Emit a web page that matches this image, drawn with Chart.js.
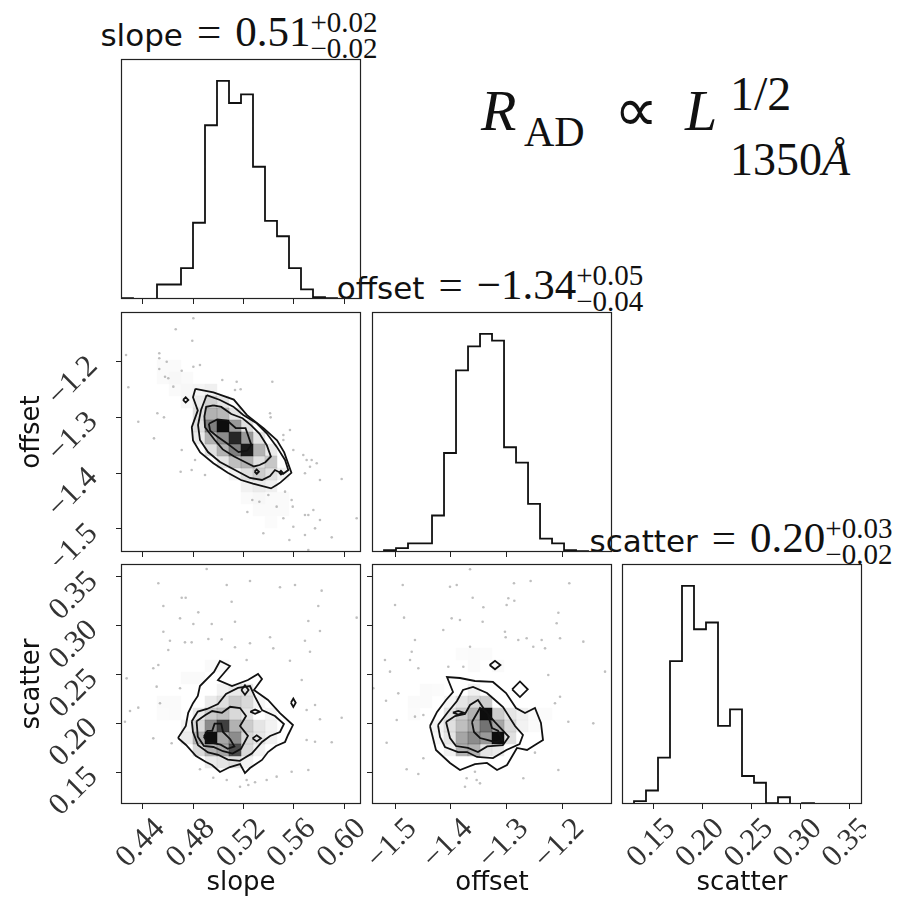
<!DOCTYPE html>
<html>
<head>
<meta charset="utf-8">
<script src="https://cdn.jsdelivr.net/npm/chart.js@4.4.1/dist/chart.umd.min.js"></script>
<style>
html, body { margin: 0; padding: 0; background: #fff; }
#wrap { position: relative; width: 904px; height: 909px; overflow: hidden; }
#wrap canvas { position: absolute; }
.ttl { position: absolute; white-space: nowrap; transform: translateX(-50%);
       font-family: "Liberation Serif"; font-size: 43px; line-height: 40px; color: #111; }
.ttl .nm { font-family: "DejaVu Sans"; font-size: 31px; }
.ttl .eq { margin: 0 14px; }
.ttl .sc { display: inline-flex; flex-direction: column; position: relative; top: -14px;
           font-size: 29px; line-height: 26px; }
.fx { position: absolute; line-height: 1; white-space: nowrap; color: #111; font-family: "Liberation Serif"; }
</style>
</head>
<body>
<div id="wrap">
  <div class="ttl" style="left:239px; top:11.5px"><span class="nm">slope</span><span class="eq">=</span>0.51<span class="sc"><span>+0.02</span><span>&minus;0.02</span></span></div>
  <div class="ttl" style="left:490px; top:264.5px"><span class="nm">offset</span><span class="eq">=</span>&minus;1.34<span class="sc"><span>+0.05</span><span>&minus;0.04</span></span></div>
  <div class="ttl" style="left:741px; top:517.5px"><span class="nm">scatter</span><span class="eq">=</span>0.20<span class="sc"><span>+0.03</span><span>&minus;0.02</span></span></div>

  <div class="fx" style="left:481px; top:82px; font-size:58px; font-style:italic">R</div>
  <div class="fx" style="left:524px; top:111px; font-size:42px">AD</div>
  <div class="fx" style="left:614px; top:79px; font-size:62px; font-family:'DejaVu Sans'">&prop;</div>
  <div class="fx" style="left:685px; top:82px; font-size:58px; font-style:italic">L</div>
  <div class="fx" style="left:730px; top:70px; font-size:48px">1/2</div>
  <div class="fx" style="left:730px; top:137px; font-size:46px">1350<i>&Aring;</i></div>
</div>
<script>
// corner plot: slope / offset / scatter

// 1D histograms (20 bins each)
const slopeEdges = [0.4226, 0.43214, 0.44168, 0.45122, 0.46076, 0.4703, 0.47984, 0.48938, 0.49892, 0.50846, 0.518,
                    0.52754, 0.53708, 0.54662, 0.55616, 0.5657, 0.57524, 0.58478, 0.59432, 0.60386, 0.6134];
const slopeCounts = [1, 0, 0, 15, 15, 32, 79, 180, 226, 203, 212, 137, 81, 65, 32, 10, 2, 1, 0, 0];

const offsetEdges = [-1.5413, -1.5198, -1.4983, -1.4768, -1.4553, -1.4338, -1.4123, -1.3908, -1.3693, -1.3478, -1.3263,
                     -1.3048, -1.2833, -1.2618, -1.2403, -1.2188, -1.1973, -1.1758, -1.1543, -1.1328, -1.1114];
const offsetCounts = [0, 2, 4, 9, 9, 38, 103, 189, 214, 227, 220, 109, 93, 50, 14, 9, 2, 1, 0, 0];

const scatterEdges = [0.1175, 0.12979, 0.14208, 0.15437, 0.16666, 0.17895, 0.19124, 0.20353, 0.21582, 0.22811, 0.2404,
                      0.25269, 0.26498, 0.27727, 0.28956, 0.30185, 0.31414, 0.32643, 0.33872, 0.35101, 0.3633];
const scatterCounts = [0, 3, 14, 48, 148, 226, 181, 188, 81, 98, 29, 22, 1, 7, 0, 1, 0, 0, 0, 0];

const slopeTicks = [0.44, 0.48, 0.52, 0.56, 0.60];
const offsetTicks = [-1.5, -1.4, -1.3, -1.2];
const scatterTicks = [0.15, 0.20, 0.25, 0.30, 0.35];

// 2D panels, everything below is in histogram-bin units (0..20 along each axis range)
// cells: [i, j, darkness]
const cellsSO = [
  [3,14,.02],[4,14,.03],[4,15,.02],[3,15,.02],[4,13,.02],[5,13,.03],[5,14,.02],
  [6,13,.04],[7,13,.06],[5,12,.03],[6,12,.08],[7,12,.18],[8,12,.1],
  [6,11,.12],[7,11,.3],[8,11,.28],[9,11,.1],
  [6,10,.12],[7,10,.5],[8,10,.95],[9,10,.4],[10,10,.12],
  [6,9,.08],[7,9,.3],[8,9,.45],[9,9,.85],[10,9,.4],[11,9,.1],
  [7,8,.12],[8,8,.3],[9,8,.5],[10,8,.9],[11,8,.3],[12,8,.08],
  [8,7,.1],[9,7,.25],[10,7,.3],[11,7,.12],[12,7,.22],
  [9,6,.05],[10,6,.12],[11,6,.2],[12,6,.12],[13,6,.05],
  [10,5,.05],[11,5,.08],[12,5,.06],
  [10,4,.02],[11,4,.03],[12,4,.02],[13,4,.02],[11,3,.02],[12,3,.02],[13,3,.02],[12,2,.015]
];
const cellsSS = [
  [6,7,.08],[7,7,.2],[8,7,.25],[9,7,.15],[10,7,.1],
  [5,6,.05],[6,6,.15],[7,6,.45],[8,6,.75],[9,6,.3],[10,6,.2],[11,6,.1],[12,6,.05],
  [5,5,.08],[6,5,.3],[7,5,.95],[8,5,.35],[9,5,.45],[10,5,.15],[11,5,.1],[12,5,.05],
  [6,4,.15],[7,4,.3],[8,4,.35],[9,4,.7],[10,4,.15],[11,4,.05],
  [7,3,.08],[8,3,.1],[9,3,.12],[10,3,.05],
  [7,8,.08],[8,8,.12],[9,8,.2],[10,8,.15],[8,9,.05],[9,9,.08],[10,9,.1],
  [3,8,.02],[4,8,.02],[11,8,.04],[12,7,.04],[5,10,.02],[6,10,.02],[7,11,.02],[8,11,.02],[4,7,.02],[3,7,.015]
];
const cellsOS = [
  [9,7,.95],[10,5,.95],[9,6,.55],[9,5,.4],[8,6,.35],[8,5,.45],[7,5,.35],[7,4,.3],[8,4,.3],[10,6,.35],
  [10,7,.2],[8,7,.3],[9,8,.2],[8,8,.15],[7,6,.25],[6,6,.12],[7,7,.2],[6,7,.1],[11,6,.15],[11,5,.12],
  [9,4,.1],[10,4,.08],[6,5,.1],[6,4,.05],[12,6,.05],[11,7,.1],[12,7,.06],[7,8,.1],[8,9,.06],[6,8,.04],
  [5,6,.05],[5,5,.03],[3,8,.02],[4,8,.02],[4,9,.02],[5,9,.015],[3,7,.015],[7,12,.015],[8,12,.02],[9,12,.015],
  [10,11,.02],[8,11,.02],[13,7,.02],[14,7,.015],[13,6,.02]
];

// contour levels, outermost first
const contoursSO = [
  [[6.2,13.6],[7.7,13.3],[9.4,12.7],[10.5,11.4],[11.9,10.3],[13.0,9.3],[13.6,8.3],[14.2,6.6],[13.3,5.8],[13.0,5.6],
   [12.5,5.3],[11.0,5.7],[10.0,6.0],[8.9,6.6],[7.7,7.4],[6.6,8.3],[6.0,9.3],[5.9,10.4],[6.4,11.8],[6.0,12.9]],
  [[7.14,13.08],[8.25,12.67],[9.36,12.11],[10.19,11.42],[11.31,10.72],[12.14,9.89],[12.97,8.78],[13.67,7.67],[13.94,6.83],
   [13.5,6.5],[12.83,6.83],[12.42,6.33],[11.75,6.0],[10.75,6.17],[9.5,6.83],[8.25,7.5],[7.25,8.33],[6.58,9.33],[6.42,10.58],[6.67,11.83]],
  [[7.7,12.21],[8.36,12.09],[9.19,11.5],[10.13,11.15],[10.85,10.55],[11.55,9.85],[12.15,8.9],[12.49,7.96],[12.03,7.48],
   [11.55,7.25],[11.08,7.13],[10.37,7.48],[9.43,7.96],[8.48,8.55],[7.78,9.37],[7.0,10.4],[6.95,11.3],[7.1,12.1]],
  [[7.32,10.69],[8.02,11.04],[8.85,10.95],[9.56,10.33],[10.38,10.33],[10.86,8.92],[10.5,8.44],[9.8,8.32],[8.85,9.04],[8.02,9.62],[7.43,10.1]]
];
const contoursSS = [
  [[4.75,5.5],[5.4,6.5],[5.6,7.6],[6.0,8.4],[6.4,9.0],[6.58,9.83],[7.75,11.0],[8.25,11.92],[9.08,11.5],[8.08,10.33],
   [9.25,9.83],[10.58,10.33],[11.42,10.83],[11.75,10.42],[11.08,9.5],[12.25,8.67],[13.25,7.58],[14.33,6.58],[13.92,5.75],
   [13.67,5.17],[12.92,4.83],[12.25,4.33],[11.75,3.67],[10.75,3.0],[10.33,2.58],[9.92,3.33],[9.08,3.08],[8.25,2.67],
   [7.58,3.25],[7.08,3.5],[6.25,4.0],[5.42,4.92]],
  [[5.9,6.9],[6.4,7.7],[7.17,7.92],[8.08,8.33],[8.75,9.17],[9.75,9.67],[10.75,9.83],[11.17,8.92],[11.75,7.83],[12.83,7.33],
   [13.58,6.67],[13.25,6.0],[12.42,5.67],[11.75,5.17],[10.9,4.2],[9.9,3.6],[8.9,3.7],[8.1,4.1],[7.25,4.3],[6.42,4.9],[6.0,6.0]],
  [[6.3,6.9],[7.0,7.4],[7.6,7.75],[8.42,7.6],[9.1,8.1],[9.92,8.0],[10.42,7.33],[9.92,6.5],[10.58,5.67],[10.0,4.6],
   [9.3,4.2],[8.5,4.4],[7.7,4.75],[6.9,4.85],[6.4,5.6]],
  [[6.9,5.6],[7.2,6.1],[7.6,6.1],[7.8,6.7],[8.35,6.7],[8.5,6.0],[9.1,5.4],[9.45,4.8],[8.9,4.6],[8.3,4.95],[7.6,5.1],[7.2,5.15]]
];
const contoursOS = [
  [[4.83,6.5],[5.42,7.67],[6.17,8.67],[6.75,9.33],[6.25,10.58],[7.33,10.5],[8.58,10.25],[10.08,10.17],[11.17,9.25],
   [12.0,8.0],[12.75,7.58],[13.58,8.0],[14.08,6.75],[14.25,5.33],[13.58,4.92],[12.92,4.5],[12.08,4.67],[11.25,3.25],
   [10.42,2.83],[9.58,3.42],[8.58,3.33],[7.33,2.83],[6.5,3.42],[5.33,4.5]],
  [[5.5,6.58],[6.33,7.67],[7.08,8.58],[7.58,9.5],[8.42,9.75],[9.58,9.25],[10.25,8.67],[10.92,8.08],[11.92,6.5],
   [12.58,5.75],[12.3,5.0],[11.2,4.5],[10.08,3.83],[8.75,3.92],[7.92,4.33],[7.17,4.33],[6.08,4.75],[5.67,5.58]],
  [[6.17,6.83],[6.92,7.33],[7.75,7.5],[8.17,8.25],[8.83,8.67],[9.5,7.67],[10.25,6.83],[11.4,5.6],[10.9,4.9],
   [9.6,4.8],[8.83,4.33],[8.0,4.67],[7.0,4.83],[6.5,5.5]],
  [[8.33,6.83],[9.0,8.0],[9.58,7.67],[10.0,6.33],[10.5,6.1],[10.85,5.35],[10.3,5.15],[9.67,5.33],[9.0,5.5],[8.5,6.0]]
];

// small closed contour islands: [cx, cy, rx, ry]
const islandsSO = [[5.39,12.67,0.22,0.22],[11.31,6.69,0.18,0.18],[13.33,6.61,0.15,0.15]];
const islandsSS = [[10.33,9.5,0.3,0.4],[11.31,5.47,0.35,0.25],[11.17,7.69,0.4,0.18],[14.36,8.44,0.2,0.35]];
const islandsOS = [[10.25,11.58,0.45,0.35],[12.33,9.56,0.65,0.65],[7.19,7.61,0.45,0.15]];

// samples left outside the contours
const ptsSO = [
  [6.03,19.48],[4.56,18.56],[5.94,17.61],[0.42,16.42],[3.19,16.56],[3.19,16.14],[3.81,15.86],[3.19,15.25],[5.06,15.11],
  [6.03,15.44],[6.58,15.58],[3.67,14.61],[3.94,14.48],[4.36,13.78],[0.61,13.73],[8.44,14.33],[9.64,14.19],[9.5,13.5],
  [9.97,13.56],[12.61,14.19],[3.03,11.56],[3.58,11.22],[1.44,10.86],[2.75,9.47],[5.06,8.5],[6.17,7.67],[4.97,6.69],
  [5.89,6.83],[7.0,6.42],[12.42,11.56],[12.47,11.22],[13.53,9.75],[14.08,10.17],[13.53,9.33],[14.36,8.5],[15.19,8.08],
  [15.47,7.67],[15.89,7.67],[16.31,7.39],[15.75,7.11],[18.39,6.08],[16.58,6.0],[15.33,6.56],[10.94,4.33],[11.53,4.19],
  [10.53,3.33],[11.86,1.56],[12.97,3.78],[13.53,2.81],[14.22,4.33],[14.31,3.78],[14.36,2.11],[15.33,3.08],[15.33,1.42],
  [16.03,3.5],[15.61,3.08],[16.58,2.67],[16.17,1.97],[17.56,1.22],[19.64,2.81],[14.03,1.0],[15.61,0.17],[13.67,5.03],[12.28,4.75]
];
const ptsSS = [
  [7.14,19.58],[3.11,18.39],[8.81,18.25],[10.75,18.58],[13.25,18.06],[14.5,18.25],[16.72,17.78],[5.06,17.19],[5.39,17.19],
  [9.22,16.86],[3.53,16.5],[6.44,15.97],[16.44,16.5],[4.92,15.47],[7.56,15.0],[9.5,15.19],[6.03,15.0],[15.61,15.25],
  [19.64,15.53],[3.53,14.36],[16.58,14.42],[4.08,13.61],[5.33,13.47],[5.89,13.47],[7.28,13.75],[8.39,13.72],[9.5,13.06],
  [10.75,13.39],[12.42,13.89],[12.69,12.97],[15.33,13.61],[15.75,12.69],[3.94,12.83],[2.69,11.31],[3.11,11.58],[10.47,12.0],
  [14.08,11.94],[15.06,10.33],[0.47,10.47],[2.97,9.78],[4.92,9.64],[1.44,8.03],[0.75,7.75],[3.25,8.39],[0.33,6.86],
  [15.47,7.83],[16.58,7.06],[18.39,7.19],[16.17,8.25],[15.47,5.33],[16.17,5.19],[17.56,5.14],[2.69,5.47],[4.22,5.06],
  [6.58,2.89],[7.69,2.19],[8.81,2.0],[9.92,1.44],[10.61,1.58],[11.17,1.81],[12.14,2.0],[12.97,2.28],[14.22,2.69],
  [15.61,2.83],[10.47,2.0]
];
const ptsOS = [
  [8.17,19.56],[2.56,18.25],[6.5,18.11],[7.06,18.25],[11.83,18.39],[13.22,18.58],[16.44,18.39],[1.92,16.58],[8.39,17.19],
  [11.36,17.14],[11.86,16.94],[9.28,16.39],[11.22,16.58],[15.53,15.94],[2.67,15.53],[6.64,15.47],[7.33,15.33],[9.22,15.19],
  [5.94,14.5],[11.08,14.36],[11.14,13.89],[15.39,15.06],[3.58,13.67],[8.17,13.11],[12.19,13.67],[12.89,13.81],[14.14,13.67],
  [13.44,13.11],[14.42,12.97],[15.67,13.81],[17.61,13.53],[3.31,12.69],[1.08,12.0],[3.17,12.0],[3.86,11.31],[1.5,11.03],
  [6.36,11.44],[7.61,11.44],[19.42,11.03],[14.69,10.75],[0.11,9.64],[2.19,9.22],[1.17,8.61],[4.28,7.42],[3.58,7.28],
  [2.06,7.0],[15.67,8.94],[15.25,8.39],[16.36,6.86],[18.44,6.72],[1.22,5.11],[4.28,3.81],[2.89,2.89],[3.86,2.5],
  [7.89,2.14],[8.58,2.69],[8.72,2.0],[7.75,1.44],[9.0,1.72],[12.61,2.14],[13.58,4.28],[15.53,2.83]
];

// layout of the 3x3 grid
const cols = [121, 372, 622];
const rows = [59, 312, 564];
const SIZE = 240;

const tickFont = { family: 'Liberation Serif', size: 31 };
const labFont = { family: 'DejaVu Sans', size: 26 };
const fmt = d => v => (v < 0 ? '\u2212' : '') + Math.abs(v).toFixed(d);
const noPad = () => ({ left: 0, top: 0, right: 0, bottom: 0 });

const framePlugin = {
  id: 'frame',
  afterDatasetsDraw(chart) {
    const { ctx, chartArea: a } = chart;
    ctx.save();
    ctx.strokeStyle = '#222';
    ctx.lineWidth = 1.2;
    ctx.strokeRect(a.left + 0.5, a.top + 0.5, a.width - 1, a.height - 1);
    ctx.restore();
  }
};

function gridToData(xE, yE) {
  const n = xE.length - 1;
  const dx = (xE[n] - xE[0]) / n, dy = (yE[n] - yE[0]) / n;
  return (gx, gy) => ({ x: xE[0] + gx * dx, y: yE[0] + gy * dy });
}

const closed = poly => poly.concat([poly[0]]);
const diamond = ([cx, cy, rx, ry]) => [[cx - rx, cy], [cx, cy + ry], [cx + rx, cy], [cx, cy - ry]];

function stepPoints(edges, counts) {
  const pts = [{ x: edges[0], y: 0 }];
  counts.forEach((c, i) => pts.push({ x: edges[i], y: c }));
  pts.push({ x: edges[edges.length - 1], y: counts[counts.length - 1] });
  pts.push({ x: edges[edges.length - 1], y: 0 });
  return pts;
}

function histSets(edges, counts) {
  return [{
    type: 'line', data: stepPoints(edges, counts), stepped: 'before',
    borderColor: '#111', borderWidth: 1.8, pointRadius: 0, fill: false
  }];
}

function sets2D(xE, yE, cells, levels, islands, pts) {
  const g = gridToData(xE, yE);
  const n = xE.length - 1;
  const dx = (xE[n] - xE[0]) / n, dy = (yE[n] - yE[0]) / n;
  const sets = [];
  sets.push({
    type: 'scatter', data: pts.map(p => g(p[0], p[1])), order: 4,
    pointRadius: 1.3, pointBorderWidth: 0, pointBackgroundColor: 'rgba(0,0,0,0.25)'
  });
  // white base fill hides the samples inside the outer contour
  sets.push({
    type: 'line', data: closed(levels[0]).map(p => g(p[0], p[1])), order: 3,
    fill: 'shape', backgroundColor: '#fff', borderWidth: 0, pointRadius: 0
  });
  sets.push({
    type: 'scatter', order: 2,
    data: cells.map(([i, j, v]) => Object.assign(g(i + 0.5, j + 0.5), { v })),
    pointStyle: 'rect', pointBorderWidth: 0,
    pointRadius: ctx => {
      const { x, y } = ctx.chart.scales;
      const w = Math.abs(x.getPixelForValue(xE[0] + dx) - x.getPixelForValue(xE[0]));
      const h = Math.abs(y.getPixelForValue(yE[0] + dy) - y.getPixelForValue(yE[0]));
      return (w + h) / 2 / Math.SQRT2 + 0.35;
    },
    pointBackgroundColor: ctx => 'rgba(0,0,0,' + (ctx.raw ? ctx.raw.v : 0) + ')'
  });
  levels.concat(islands.map(diamond)).forEach(poly => {
    sets.push({
      type: 'line', data: closed(poly).map(p => g(p[0], p[1])), order: 1,
      borderColor: '#111', borderWidth: 1.8, pointRadius: 0, fill: false
    });
  });
  return sets;
}

function makePanel(p) {
  const padL = p.col === 0 ? 121 : 12;
  const padB = p.row === 2 ? 909 - (rows[2] + SIZE) : 12;
  const padT = 4, padR = 4;
  const cv = document.createElement('canvas');
  cv.width = SIZE + padL + padR;
  cv.height = SIZE + padT + padB;
  cv.style.left = (cols[p.col] - padL) + 'px';
  cv.style.top = (rows[p.row] - padT) + 'px';
  document.getElementById('wrap').appendChild(cv);

  const showX = p.row === 2;
  const showY = p.col === 0 && !p.hist;

  new Chart(cv, {
    type: 'scatter',
    data: { datasets: p.datasets },
    options: {
      responsive: false,
      animation: false,
      events: [],
      layout: { autoPadding: false, padding: { top: padT, right: padR, left: 0, bottom: 0 } },
      plugins: { legend: { display: false }, tooltip: { enabled: false } },
      scales: {
        x: {
          type: 'linear', position: 'bottom', min: p.xr[0], max: p.xr[1],
          afterBuildTicks: s => { s.ticks = p.xt.map(v => ({ value: v })); },
          afterFit: s => {
            s.height = padB;
            s.paddingLeft = s.paddingRight = s.paddingTop = s.paddingBottom = 0;
            s.getPadding = noPad;
          },
          border: { display: false },
          grid: { drawOnChartArea: false, drawTicks: true, tickLength: 5, color: '#222', lineWidth: 1 },
          ticks: {
            display: showX, autoSkip: false, minRotation: 45, maxRotation: 45,
            labelOffset: 17, padding: 2, color: '#333', font: tickFont, callback: p.xf
          },
          title: { display: showX, text: p.xl, color: '#111', font: labFont, padding: { top: 0, bottom: 10 } }
        },
        y: {
          type: 'linear', position: 'left', min: p.yr[0], max: p.yr[1],
          afterBuildTicks: s => { s.ticks = (p.yt || []).map(v => ({ value: v })); },
          afterFit: s => {
            s.width = padL;
            s.paddingLeft = s.paddingRight = s.paddingTop = s.paddingBottom = 0;
            s.getPadding = noPad;
          },
          border: { display: false },
          grid: { display: !p.hist, drawOnChartArea: false, drawTicks: true, tickLength: 5, color: '#222', lineWidth: 1 },
          ticks: {
            display: showY, autoSkip: false, minRotation: 45, maxRotation: 45,
            labelOffset: 0, padding: 23, color: '#333', font: tickFont, callback: p.yf
          },
          title: { display: showY, text: p.yl, color: '#111', font: labFont, padding: { top: 17, bottom: 0 } }
        }
      }
    },
    plugins: [framePlugin]
  });
}

const sR = [slopeEdges[0], slopeEdges[20]];
const oR = [offsetEdges[0], offsetEdges[20]];
const cR = [scatterEdges[0], scatterEdges[20]];
const histTop = c => [0, 1.1 * Math.max(...c)];

// row 0
makePanel({ col: 0, row: 0, hist: true, xr: sR, yr: histTop(slopeCounts), xt: slopeTicks,
            datasets: histSets(slopeEdges, slopeCounts) });
// row 1
makePanel({ col: 0, row: 1, xr: sR, yr: oR, xt: slopeTicks, yt: offsetTicks, yf: fmt(1), yl: 'offset',
            datasets: sets2D(slopeEdges, offsetEdges, cellsSO, contoursSO, islandsSO, ptsSO) });
makePanel({ col: 1, row: 1, hist: true, xr: oR, yr: histTop(offsetCounts), xt: offsetTicks,
            datasets: histSets(offsetEdges, offsetCounts) });
// row 2
makePanel({ col: 0, row: 2, xr: sR, yr: cR, xt: slopeTicks, yt: scatterTicks, xf: fmt(2), yf: fmt(2),
            xl: 'slope', yl: 'scatter',
            datasets: sets2D(slopeEdges, scatterEdges, cellsSS, contoursSS, islandsSS, ptsSS) });
makePanel({ col: 1, row: 2, xr: oR, yr: cR, xt: offsetTicks, yt: scatterTicks, xf: fmt(1), xl: 'offset',
            datasets: sets2D(offsetEdges, scatterEdges, cellsOS, contoursOS, islandsOS, ptsOS) });
makePanel({ col: 2, row: 2, hist: true, xr: cR, yr: histTop(scatterCounts), xt: scatterTicks, xf: fmt(2), xl: 'scatter',
            datasets: histSets(scatterEdges, scatterCounts) });
</script>
</body>
</html>
